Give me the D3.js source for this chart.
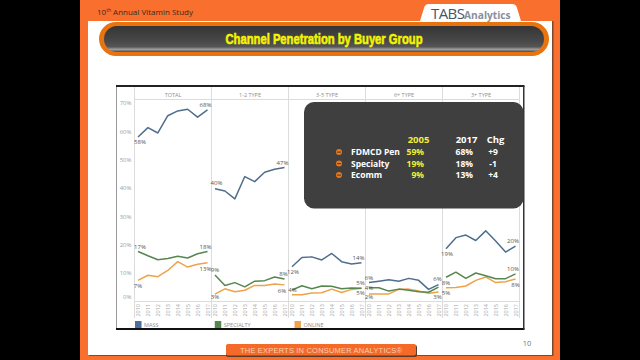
<!DOCTYPE html>
<html><head><meta charset="utf-8">
<style>html,body{margin:0;padding:0;background:#000}svg{display:block}text{font-family:"Open Sans",sans-serif}</style>
<script src="https://cdn.jsdelivr.net/npm/d3@7"></script></head><body><svg id="c" width="640" height="360"></svg>
<script>
const years=["2010","2011","2012","2013","2014","2015","2016","2017"];
const panels=["TOTAL","1-2 TYPE","3-5 TYPE","6+ TYPE","3+ TYPE"];
const seriesNames=["MASS","SPECIALTY","ONLINE"];
const seriesColors=["#4e6e8e","#55874f","#efa24a"];
const massValues=[
 [58,61.3,59.4,65.5,67.2,67.8,65,67.6],
 [39.7,38.9,36.1,44,42.2,45.5,46.6,47.2],
 [12.1,15.4,15.6,14.5,16.8,13.9,13.1,13.5],
 [6.5,7,7.5,7,8,7.3,4.1,5.8],
 [18.5,22.4,23.3,21.4,24.8,21.2,17.3,19.4]];
const specialtyValues=[
 [17.5,16,14.6,15,15.8,15.2,16.7,17.5],
 [9.2,5.5,6.5,5,7,7.2,8.5,7.8],
 [3.9,5.4,4.3,5.3,5.2,4.3,4.6,4.5],
 [4.7,4.7,3.5,4.2,3.8,3.3,3.1,4.9],
 [8.4,10.2,8,9.9,8.9,7.9,7.9,9.6]];
const onlineValues=[
 [7.3,9.1,8.6,10.8,13.9,12,13,13.5],
 [2.4,4.3,3.3,3.8,5.5,5.5,6,5.7],
 [2.2,2.2,2.8,2.9,4.2,3,4.1,4.5],
 [2.5,2.5,2.5,4.1,4.2,3.5,2.7,3.2],
 [4.7,4.8,5.3,7.3,8.5,6.5,6.8,7.8]];
const massLabels=[["58%","68%"],["40%","47%"],["12%","14%"],["6%","6%"],["19%","20%"]];
const specialtyLabels=[["17%","18%"],["9%","8%"],["4%","5%"],["4%",""],["8%","10%"]];
const onlineLabels=[["7%","13%"],["3%","6%"],["","5%"],["2%","3%"],["5%","8%"]];
const yTicks=[0,10,20,30,40,50,60,70];
const tableHead=["2005","2017","Chg"];
const tableRows=["FDMCD Pen","Specialty","Ecomm"];
const col2005=["59%","19%","9%"];
const col2017=["68%","18%","13%"];
const colChg=["+9","-1","+4"];

const svg=d3.select("#c");
const defs=svg.append("defs");
const g1=defs.append("linearGradient").attr("id","pill").attr("x1",0).attr("x2",0).attr("y1",0).attr("y2",1);
[[0,"#353535"],[0.55,"#474747"],[0.8,"#555"],[0.9,"#a0a0a0"],[1,"#4a4a4a"]].forEach(d=>g1.append("stop").attr("offset",d[0]).attr("stop-color",d[1]));

// slide
const R=(x,y,w,h,f,r)=>svg.append("rect").attr("x",x).attr("y",y).attr("width",w).attr("height",h).attr("fill",f).attr("rx",r||0);
R(0,0,640,360,"#000");
R(80,0,480,360,"#f96f2e");
R(89,21,464.5,335,"#7a4a30");
R(88,21,464,334,"#fff");
const head=svg.append("text").attr("x",97).attr("y",15).attr("font-size",8).attr("fill","#3a2a20").text("10");
head.append("tspan").attr("font-size",5).attr("dy",-3).text("th");
head.append("tspan").attr("dy",3).text(" Annual Vitamin Study");
// logo
svg.append("path").attr("d","M420 21 L424 8 Q425 4 429 4 L512 4 Q516 4 517 8 L521 21 Z").attr("fill","#fff");
svg.append("text").attr("x",431).attr("y",19).attr("font-size",15).attr("fill","#44566a").attr("letter-spacing",-0.6).text("TABS");
svg.append("text").attr("x",464).attr("y",19).attr("font-size",10.2).attr("font-weight",700).attr("fill","#8a8f9c").text("Analytics");
// pill
R(99,22,450,34,"#e8730f",17);
R(104,26,440,26,"url(#pill)",13);
svg.append("text").attr("x",324).attr("y",44).attr("text-anchor","middle").attr("font-size",15).attr("font-weight",700)
 .attr("fill","#f4f400").attr("stroke","#f4f400").attr("stroke-width",0.6).attr("textLength",197).attr("lengthAdjust","spacingAndGlyphs")
 .style("font-family","'Liberation Sans Narrow','Liberation Sans',sans-serif").text("Channel Penetration by Buyer Group");

// chart frame
R(116,86,408,243,"#fff");
svg.append("line").attr("x1",116.5).attr("x2",116.5).attr("y1",86).attr("y2",329).attr("stroke","#999");
R(116,85,408.5,2,"#222"); R(116,328,408.5,2,"#111"); R(523,86,1.5,243,"#333");

const panelEdges=[134.5,211.5,288.5,365.5,442.5,519.5];
const y=d3.scaleLinear().domain([0,70]).range([301,103]);
const fx=d3.scaleBand().domain(panels).range([134.5,519.5]);
const x=d3.scalePoint().domain(years).range([3.5,73]);

const grid="#dcdcdc";
panelEdges.forEach(e=>svg.append("line").attr("x1",e).attr("x2",e).attr("y1",87).attr("y2",318).attr("stroke",grid).attr("stroke-width",1));
svg.append("line").attr("x1",134.5).attr("x2",519.5).attr("y1",99.5).attr("y2",99.5).attr("stroke",grid);
svg.append("line").attr("x1",134.5).attr("x2",519.5).attr("y1",301.5).attr("y2",301.5).attr("stroke",grid);

// y axis
const ya=svg.append("g").attr("transform","translate(134.5,0)").call(d3.axisLeft(y).tickValues(yTicks).tickSize(0).tickPadding(3).tickFormat(d=>d+"%"));
ya.select(".domain").remove();
ya.selectAll("text").attr("font-size",6).attr("fill","#a0a0a0").style("font-family","'Open Sans',sans-serif")
 .attr("dy",d=>d===0?"-0.4em":"0.32em");

panels.forEach((p,i)=>{
  const g=svg.append("g").attr("transform",`translate(${fx(p)},0)`);
  g.append("text").attr("x",fx.bandwidth()/2).attr("y",96.5).attr("text-anchor","middle").attr("font-size",5.5).attr("fill","#8d8d8d").text(p);
  const xa=g.append("g").attr("transform","translate(0,301)").call(d3.axisBottom(x).tickSize(0).tickPadding(2));
  xa.select(".domain").remove();
  xa.selectAll("text").attr("font-size",5.5).attr("fill","#a8a8a8").attr("text-anchor","end").attr("dx",0).attr("dy",0)
    .attr("transform",d=>"translate(1.8,3) rotate(-90)").attr("y",0).style("font-family","'Open Sans',sans-serif");
  const line=d3.line().x((d,k)=>x(years[k])).y(d=>y(d));
  [onlineValues,specialtyValues,massValues].forEach((vals,s)=>{
    g.append("path").attr("d",line(vals[i])).attr("fill","none").attr("stroke",seriesColors[2-s]).attr("stroke-width",1.5).attr("stroke-linejoin","round");
  });
});

// end labels: offsets are drawing choices, keyed [series][panel] -> [startDx,startDy,endDx,endDy]
const labelOffsets=[
 [[2,5,-2,-5],[1.5,-5.5,-2,-5],[1,5.5,-3,-5.5],[0,-5,-1,-6],[1,5.5,-2.5,-5.5]],
 [[2,-5,-2,-5],[0,-5,-1,-5],[0.5,0,-1,-5.5],[0,0,0,0],[0,5.5,-2.5,-5.5]],
 [[0,5.5,-2,6],[0,3,-2.5,5.5],[0,0,-1,5],[0,3,-1,5],[0,5.5,0,6]]];
[massLabels,specialtyLabels,onlineLabels].forEach((lab,s)=>{
  const vals=[massValues,specialtyValues,onlineValues][s];
  panels.forEach((p,i)=>{
    [0,1].forEach(e=>{
      const t=lab[i][e]; if(!t) return;
      const o=labelOffsets[s][i];
      const k=e?7:0;
      svg.append("text").attr("x",fx(p)+x(years[k])+o[e*2]).attr("y",y(vals[i][k])+o[e*2+1]+2.2)
        .attr("text-anchor","middle").attr("font-size",6).attr("fill","#555").text(t);
    });
  });
});

// legend
const legX=d3.scalePoint().domain(seriesNames).range([135,294.5]);
seriesNames.forEach((n,i)=>{
  R(legX(n),321,6.5,7,i===0?"#4a6fa0":seriesColors[i]);
  svg.append("text").attr("x",legX(n)+9).attr("y",327).attr("font-size",5.5).attr("fill","#8d8d8d").text(n);
});

// callout
R(304,102,219.5,106.5,"#3f3f3f",10);
const T=(x,y,t,f,a,sz)=>svg.append("text").attr("x",x).attr("y",y).attr("fill",f).attr("text-anchor",a||"start").attr("font-size",sz||8.5).attr("font-weight",700).style("font-family","'Open Sans',sans-serif").text(t);
T(418.5,143,tableHead[0],"#f2ee3a","middle",9.5);
T(466.5,143,tableHead[1],"#fff","middle",9.5);
T(495.5,143,tableHead[2],"#fff","middle",9.5);
const rowY=d3.scalePoint().domain(tableRows).range([155,178]);
tableRows.forEach((r,i)=>{
  const yy=rowY(r);
  svg.append("circle").attr("cx",339).attr("cy",yy-3).attr("r",3).attr("fill","#e8781a");
  svg.append("rect").attr("x",337).attr("y",yy-3.4).attr("width",4).attr("height",1).attr("fill","#3f3f3f");
  T(351,yy,r,"#fff");
  T(424,yy,col2005[i],"#f2ee3a","end");
  T(473,yy,col2017[i],"#fff","end");
  T(493,yy,colChg[i],"#fff","middle");
});

// footer
R(226,345,191,12,"#5a3a28",2);
R(226,344,190,11.5,"#f56a28",2);
svg.append("text").attr("x",321).attr("y",353).attr("text-anchor","middle").attr("font-size",7.5).attr("fill","#fad0b0")
 .style("font-family","'Liberation Sans',sans-serif").attr("textLength",162).text("THE EXPERTS IN CONSUMER ANALYTICS®");
svg.append("text").attr("x",527).attr("y",346).attr("text-anchor","middle").attr("font-size",7.5).attr("fill","#777").text("10");
</script></body></html>
